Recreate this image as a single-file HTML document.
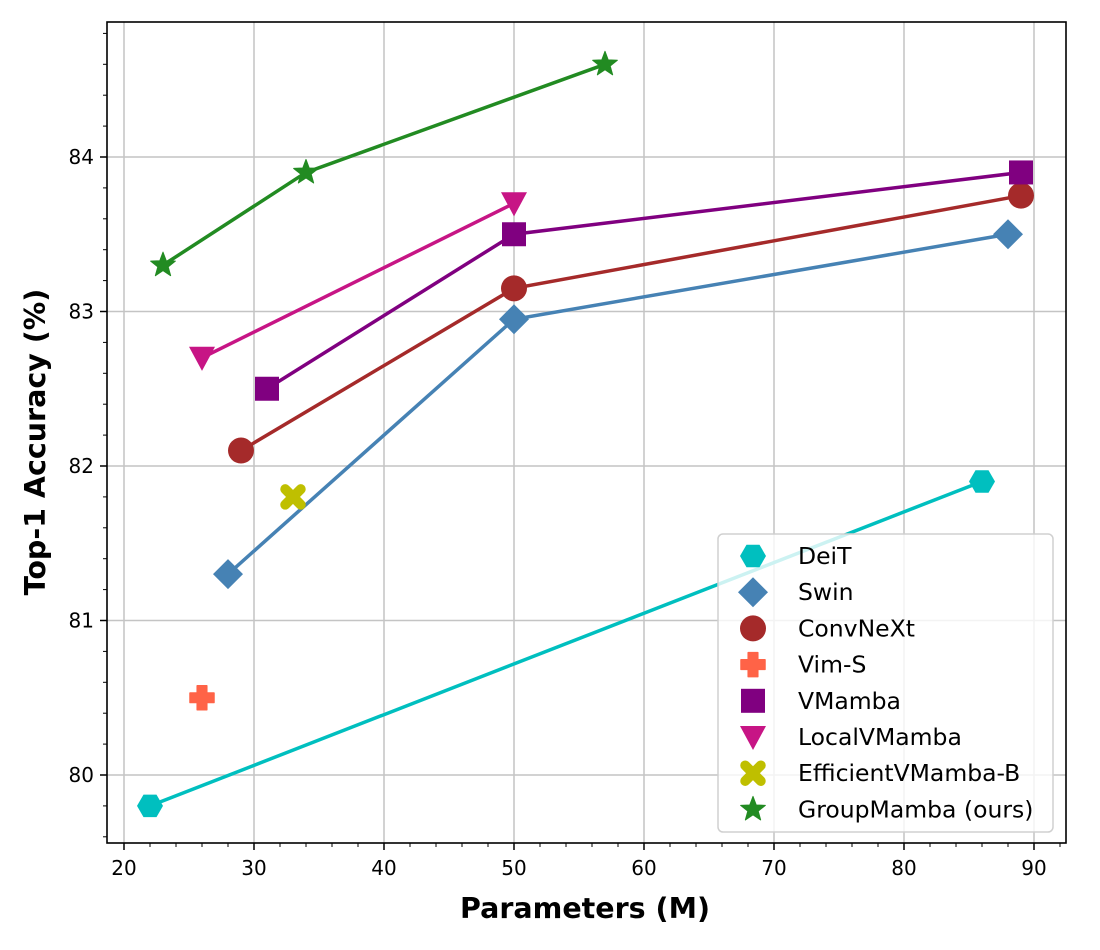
<!DOCTYPE html>
<html><head><meta charset="utf-8"><style>body{margin:0;background:#fff}svg{display:block;font-family:"DejaVu Sans","Liberation Sans",sans-serif}</style></head>
<body>
<svg id="chart" width="1100" height="950" xmlns="http://www.w3.org/2000/svg"></svg>
<script>
const seriesNames=["DeiT","Swin","ConvNeXt","Vim-S","VMamba","LocalVMamba","EfficientVMamba-B","GroupMamba (ours)"];
const deitX=[22,86], deitY=[79.8,81.9];
const swinX=[28,50,88], swinY=[81.3,82.95,83.5];
const convX=[29,50,89], convY=[82.1,83.15,83.75];
const vimX=[26], vimY=[80.5];
const vmambaX=[31,50,89], vmambaY=[82.5,83.5,83.9];
const localX=[26,50], localY=[82.7,83.7];
const effX=[33], effY=[81.8];
const groupX=[23,34,57], groupY=[83.3,83.9,84.6];
const xTicks=[20,30,40,50,60,70,80,90];
const yTicks=[80,81,82,83,84];

const NS="http://www.w3.org/2000/svg";
const svg=document.getElementById('chart');
const L=107,R=1066,T=22,B=843;
const xs=v=>124+(v-20)*13.0;
const ys=v=>775-(v-80)*154.5;
function el(tag,attrs,parent){const e=document.createElementNS(NS,tag);for(const k in attrs)e.setAttribute(k,attrs[k]);(parent||svg).appendChild(e);return e;}

xTicks.forEach(v=>{const g=el('line',{x1:xs(v),x2:xs(v),y1:T,y2:B,stroke:'#c4c4c4','stroke-width':1.5});

});
yTicks.forEach(v=>{const g=el('line',{x1:L,x2:R,y1:ys(v),y2:ys(v),stroke:'#c4c4c4','stroke-width':1.5});

});

function marker(kind,cx,cy,color,s,parent){
  let e;
  if(kind==='hex'){const r=s/2;let p=[];for(let i=0;i<6;i++){const a=Math.PI/3*i;p.push((cx+r*Math.cos(a))+','+(cy+r*Math.sin(a)));}e=el('polygon',{points:p.join(' '),fill:color},parent);}
  else if(kind==='diamond'){const r=s/2+2;e=el('polygon',{points:`${cx},${cy-r} ${cx+r},${cy} ${cx},${cy+r} ${cx-r},${cy}`,fill:color},parent);}
  else if(kind==='circle'){e=el('circle',{cx,cy,r:s/2,fill:color},parent);}
  else if(kind==='plus'){const a=s/2,b=s/5;e=el('path',{d:`M${cx-b},${cy-a}h${2*b}v${a-b}h${a-b}v${2*b}h${-(a-b)}v${a-b}h${-2*b}v${-(a-b)}h${-(a-b)}v${-2*b}h${a-b}z`,fill:color,'stroke':color,'stroke-linejoin':'round','stroke-width':1.5},parent);}
  else if(kind==='square'){const a=s/2-1;e=el('rect',{x:cx-a,y:cy-a,width:2*a,height:2*a,fill:color},parent);}
  else if(kind==='tri'){const a=s/2;e=el('polygon',{points:`${cx-a},${cy-a*0.85} ${cx+a},${cy-a*0.85} ${cx},${cy+a}`,fill:color},parent);}
  else if(kind==='x'){const a=s/2;e=el('g',{},parent);el('line',{x1:cx-a*0.6,y1:cy-a*0.6,x2:cx+a*0.6,y2:cy+a*0.6,stroke:color,'stroke-width':s*0.38,'stroke-linecap':'round'},e);el('line',{x1:cx-a*0.6,y1:cy+a*0.6,x2:cx+a*0.6,y2:cy-a*0.6,stroke:color,'stroke-width':s*0.38,'stroke-linecap':'round'},e);}
  else if(kind==='star'){const ro=s/2,ri=ro*0.42;let p=[];for(let i=0;i<10;i++){const r=i%2?ri:ro;const a=-Math.PI/2+i*Math.PI/5;p.push((cx+r*Math.cos(a))+','+(cy+r*Math.sin(a)));}e=el('polygon',{points:p.join(' '),fill:color,stroke:color,'stroke-linejoin':'round','stroke-width':1},parent);}
  return e;
}

const series=[
 {x:deitX,y:deitY,c:'#00bfbf',m:'hex',s:26,n:'deit'},
 {x:swinX,y:swinY,c:'#4682b4',m:'diamond',s:26,n:'swin'},
 {x:convX,y:convY,c:'#a52a2a',m:'circle',s:26,n:'convnext'},
 {x:vimX,y:vimY,c:'#ff6347',m:'plus',s:24,n:'vim-s'},
 {x:vmambaX,y:vmambaY,c:'#800080',m:'square',s:26,n:'vmamba'},
 {x:localX,y:localY,c:'#c71585',m:'tri',s:26,n:'localvmamba'},
 {x:effX,y:effY,c:'#bfbf00',m:'x',s:26,n:'efficientvmamba-b'},
 {x:groupX,y:groupY,c:'#228b22',m:'star',s:26,n:'groupmamba'}
];
series.forEach(sr=>{
  const g=el('g',{});
  
  
  if(sr.x.length>1){const ln=el('polyline',{points:sr.x.map((v,i)=>xs(v)+','+ys(sr.y[i])).join(' '),fill:'none',stroke:sr.c,'stroke-width':3.5},g);
  
  }
  sr.x.forEach((v,i)=>{const mk=marker(sr.m,xs(v),ys(sr.y[i]),sr.c,sr.s,g);
  
  });
});

const sp=el('rect',{x:L,y:T,width:R-L,height:B-T,fill:'none',stroke:'#000','stroke-width':1.6});



xTicks.forEach(v=>{el('line',{x1:xs(v),x2:xs(v),y1:B,y2:B+7,stroke:'#000','stroke-width':1.5});
const t=el('text',{x:xs(v),y:B+32,'font-size':20,'text-anchor':'middle'});t.textContent=v;

});
for(let v=20;v<=92;v+=2){if(v%10)el('line',{x1:xs(v),x2:xs(v),y1:B,y2:B+4,stroke:'#000','stroke-width':1});}
yTicks.forEach(v=>{el('line',{x1:L-7,x2:L,y1:ys(v),y2:ys(v),stroke:'#000','stroke-width':1.5});
const t=el('text',{x:L-13,y:ys(v)+7,'font-size':20,'text-anchor':'end'});t.textContent=v;

});
for(let k=0;k<30;k++){const v=79.6+k*0.2;const y=ys(v);if(y<T||y>B)continue;if(Math.abs(v-Math.round(v))<0.01)continue;el('line',{x1:L-4,x2:L,y1:y,y2:y,stroke:'#000','stroke-width':1});}

const xl=el('text',{x:585,y:918,'font-size':28.5,'font-weight':'bold','text-anchor':'middle'});xl.textContent='Parameters (M)';


const yl=el('text',{x:0,y:0,'font-size':28.5,'font-weight':'bold','text-anchor':'middle',transform:'translate(45,442) rotate(-90)'});yl.textContent='Top-1 Accuracy (%)';



const lg=el('g',{});


el('rect',{x:718,y:534,width:335,height:298,rx:5,fill:'rgba(255,255,255,0.8)',stroke:'#d0d0d0','stroke-width':1.5},lg);
series.forEach((sr,i)=>{const cy=556+i*36.2;
  const e=el('g',{},lg);
  
  
  marker(sr.m,753,cy,sr.c,sr.s,e);
  const t=el('text',{x:798,y:cy+8,'font-size':23.5},e);t.textContent=seriesNames[i];});
</script>
</body></html>
